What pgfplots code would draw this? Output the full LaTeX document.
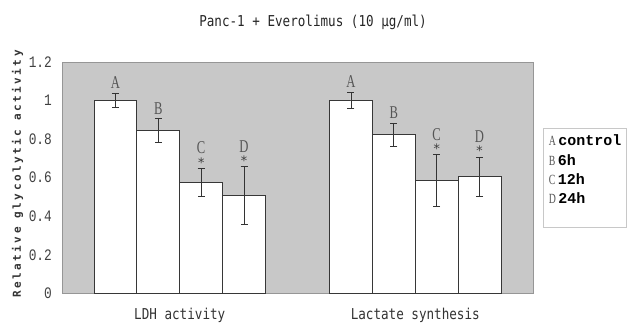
\documentclass[border=0pt]{standalone}
\usepackage{pgfplots}
\pgfplotsset{compat=1.18}
\usepackage{pgfplotstable}
\usepackage{fontspec}
\setmainfont{Liberation Serif}
\newfontfamily\titlefont[FakeStretch=0.84]{DejaVu Sans Mono}
\newfontfamily\ylabfont[LetterSpace=22.5]{DejaVu Sans Mono}
\newfontfamily\ticfont[FakeStretch=0.8]{Liberation Mono}
\newfontfamily\letfont[FakeStretch=0.7]{Liberation Serif}
\newfontfamily\astfont{DejaVu Sans Mono}
\newfontfamily\legfont{Liberation Mono}
\definecolor{bgGray}{RGB}{200,200,200}
\definecolor{frameGray}{RGB}{150,150,150}
\definecolor{barEdge}{RGB}{55,55,55}
\definecolor{letGray}{RGB}{85,85,85}
\definecolor{legGray}{RGB}{200,200,200}

% x = group position + bar offset, y = value, err = half error bar
\pgfplotstableread{
x      y      err
-0.273 1.000  0.035
0.727  1.000  0.042
}\tblA
\pgfplotstableread{
x      y      err
-0.091 0.843  0.062
0.909  0.823  0.061
}\tblB
\pgfplotstableread{
x      y      err
0.091  0.577  0.072
1.091  0.584  0.135
}\tblC
\pgfplotstableread{
x      y      err
0.273  0.508  0.149
1.273  0.605  0.102
}\tblD

\begin{document}
\begin{tikzpicture}
\path[use as bounding box] (0,0) rectangle (627pt,324pt);
\begin{axis}[
  at={(62pt,30.7pt)}, anchor=south west,
  scale only axis, width=471pt, height=231.3pt,
  xmin=-0.5, xmax=1.5, ymin=0, ymax=1.2,
  axis background/.style={fill=bgGray},
  axis line style={draw=frameGray, line width=0.8pt},
  xtick={0,1}, xticklabels={LDH activity, Lactate synthesis},
  major x tick style={draw=none},
  extra x ticks={0.5}, extra x tick labels={},
  extra x tick style={major tick length=3pt, tick style={draw=frameGray, line width=0.6pt}},
  ytick={0,0.2,0.4,0.6,0.8,1,1.2},
  /pgf/number format/assume math mode=true,
  major y tick style={draw=none},
  yticklabel style={font=\ticfont\fontsize{16}{16}\selectfont, inner sep=0pt, xshift=-10pt, text=black!75},
  xticklabel style={font=\titlefont\fontsize{15}{15}\selectfont, inner sep=0pt, yshift=-15pt, text=black!80},
  title={Panc-1 + Everolimus (10 μg/ml)},
  every axis title/.style={font=\titlefont\fontsize{15}{15}\selectfont, at={(axis description cs:0.533,1.173)}, anchor=center, text=black!85},
  ylabel={Relative glycolytic activity},
  ylabel style={font=\ylabfont\bfseries\fontsize{11}{11}\selectfont, at={(axis description cs:-0.0945,0.516)}, anchor=center, text=black!80},
  bar width=0.182,
  legend image code/.code={},
  legend cell align=left,
  legend style={at={(axis description cs:1.022,0.713)}, anchor=north west,
    draw=legGray, fill=white, line width=0.8pt, inner xsep=4pt, inner ysep=6pt,
    row sep=4.3pt, column sep=0pt,
    nodes={inner sep=1pt, text height=10pt, text depth=3pt},
    font=\legfont\bfseries\fontsize{15}{15}\selectfont},
  error bars/error bar style={draw=black!80, line width=0.8pt},
  error bars/error mark options={rotate=90, mark size=3.5pt, line width=0.8pt, draw=black!80},
]
\addplot[ybar, bar shift=0pt, fill=white, draw=barEdge, line width=0.9pt,
  error bars/.cd, y dir=both, y explicit] table[x=x, y=y, y error=err] {\tblA};
\addlegendentry{{\letfont\mdseries\fontsize{14}{14}\selectfont\color{letGray}A}\,control}
\addplot[ybar, bar shift=0pt, fill=white, draw=barEdge, line width=0.9pt,
  error bars/.cd, y dir=both, y explicit] table[x=x, y=y, y error=err] {\tblB};
\addlegendentry{{\letfont\mdseries\fontsize{14}{14}\selectfont\color{letGray}B}\,6h}
\addplot[ybar, bar shift=0pt, fill=white, draw=barEdge, line width=0.9pt,
  error bars/.cd, y dir=both, y explicit] table[x=x, y=y, y error=err] {\tblC};
\addlegendentry{{\letfont\mdseries\fontsize{14}{14}\selectfont\color{letGray}C}\,12h}
\addplot[ybar, bar shift=0pt, fill=white, draw=barEdge, line width=0.9pt,
  error bars/.cd, y dir=both, y explicit] table[x=x, y=y, y error=err] {\tblD};
\addlegendentry[text depth=17pt]{{\letfont\mdseries\fontsize{14}{14}\selectfont\color{letGray}D}\,24h}

\tikzset{lbl/.style={font=\letfont\fontsize{18}{18}\selectfont, text=letGray, anchor=south, inner sep=0pt},
         ast/.style={font=\astfont\fontsize{13}{13}\selectfont, text=black!75, anchor=south, inner sep=0pt}}
% LDH activity
\node[lbl, yshift=5pt] at (axis cs:-0.273,1.035) {A};
\node[lbl, yshift=4pt] at (axis cs:-0.091,0.905) {B};
\node[ast, yshift=1pt] at (axis cs:0.091,0.649) {*};
\node[lbl, yshift=14pt] at (axis cs:0.091,0.649) {C};
\node[ast, yshift=1pt] at (axis cs:0.273,0.657) {*};
\node[lbl, yshift=14pt] at (axis cs:0.273,0.657) {D};
% Lactate synthesis
\node[lbl, yshift=5pt] at (axis cs:0.727,1.042) {A};
\node[lbl, yshift=4pt] at (axis cs:0.909,0.884) {B};
\node[ast, yshift=1pt] at (axis cs:1.091,0.719) {*};
\node[lbl, yshift=14pt] at (axis cs:1.091,0.719) {C};
\node[ast, yshift=1pt] at (axis cs:1.273,0.707) {*};
\node[lbl, yshift=14pt] at (axis cs:1.273,0.707) {D};
\end{axis}
\end{tikzpicture}
\end{document}
